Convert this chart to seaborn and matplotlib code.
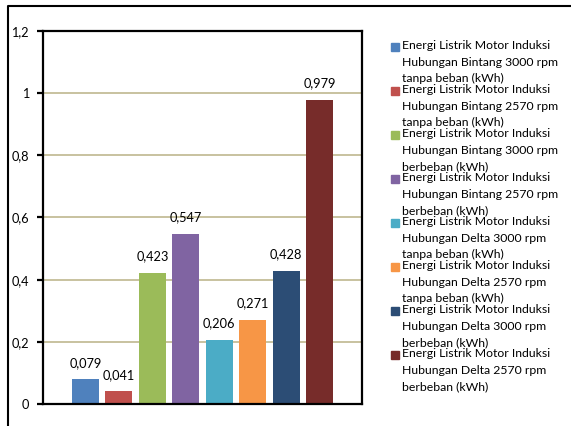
import matplotlib
matplotlib.use("Agg")
import matplotlib.pyplot as plt
import matplotlib.patches as mpatches
import matplotlib.lines as mlines
import seaborn as sns
import pandas as pd

categories = [
    "Energi Listrik Motor Induksi\nHubungan Bintang 3000 rpm\ntanpa beban (kWh)",
    "Energi Listrik Motor Induksi\nHubungan Bintang 2570 rpm\ntanpa beban (kWh)",
    "Energi Listrik Motor Induksi\nHubungan Bintang 3000 rpm\nberbeban (kWh)",
    "Energi Listrik Motor Induksi\nHubungan Bintang 2570 rpm\nberbeban (kWh)",
    "Energi Listrik Motor Induksi\nHubungan Delta 3000 rpm\ntanpa beban (kWh)",
    "Energi Listrik Motor Induksi\nHubungan Delta 2570 rpm\ntanpa beban (kWh)",
    "Energi Listrik Motor Induksi\nHubungan Delta 3000 rpm\nberbeban (kWh)",
    "Energi Listrik Motor Induksi\nHubungan Delta 2570 rpm\nberbeban (kWh)",
]
values = [0.079, 0.041, 0.423, 0.547, 0.206, 0.271, 0.428, 0.979]
colors = ["#4F81BD", "#C0504D", "#9BBB59", "#8064A2",
          "#4BACC6", "#F79646", "#2C4D75", "#772C2A"]
yticks = [0, 0.2, 0.4, 0.6, 0.8, 1.0, 1.2]
ytick_labels = ["0", "0,2", "0,4", "0,6", "0,8", "1", "1,2"]

FONT = "Lato"
FS = 9.2
LFS = 8.8

df = pd.DataFrame({"cat": categories, "val": values})

W, H = 571, 426
fig = plt.figure(figsize=(W / 100, H / 100), dpi=100)
ax = fig.add_axes([43 / W, (H - 404) / H, (362 - 43) / W, (404 - 31) / H])

sns.barplot(data=df, x="cat", y="val", hue="cat", palette=colors,
            order=categories, hue_order=categories, dodge=False,
            width=0.81, legend=False, ax=ax, saturation=1)

ax.set_xlim(-1.27, 8.27)
ax.set_ylim(0, 1.2)
ax.set_yticks(yticks)
ax.set_yticklabels(ytick_labels, fontfamily=FONT, fontsize=FS)
ax.set_xticks([])
ax.set_xlabel("")
ax.set_ylabel("")
ax.grid(axis="y", color="#c4bd97", linewidth=1.3)
ax.set_axisbelow(True)
for s in ax.spines.values():
    s.set_color("black")
    s.set_linewidth(1.6)
ax.tick_params(axis="y", length=4, width=1.6, pad=6, direction="out", colors="black")

for cont, v in zip(ax.containers, values):
    ax.bar_label(cont, labels=[f"{v:.3f}".replace(".", ",")], padding=7.5,
                 fontfamily=FONT, fontsize=FS)

# legend (manual, Excel-like compressed spacing)
for i, (lab, col) in enumerate(zip(categories, colors)):
    yc = 47 + 44.0 * i
    fig.patches.append(mpatches.Rectangle((391 / W, (H - yc - 4) / H), 8 / W, 8 / H,
                                          transform=fig.transFigure, color=col))
    fig.text(402 / W, (H - yc + 7) / H, lab, fontfamily=FONT, fontsize=LFS,
             va="top", ha="left", linespacing=1.62,
             transform=fig.transFigure)

# outer border
fig.lines.append(mlines.Line2D([8 / W, 8 / W, 1.05], [-0.05, (H - 6) / H, (H - 6) / H],
                               transform=fig.transFigure, color="black",
                               linewidth=1.5))

fig.savefig("out.png", dpi=100)
